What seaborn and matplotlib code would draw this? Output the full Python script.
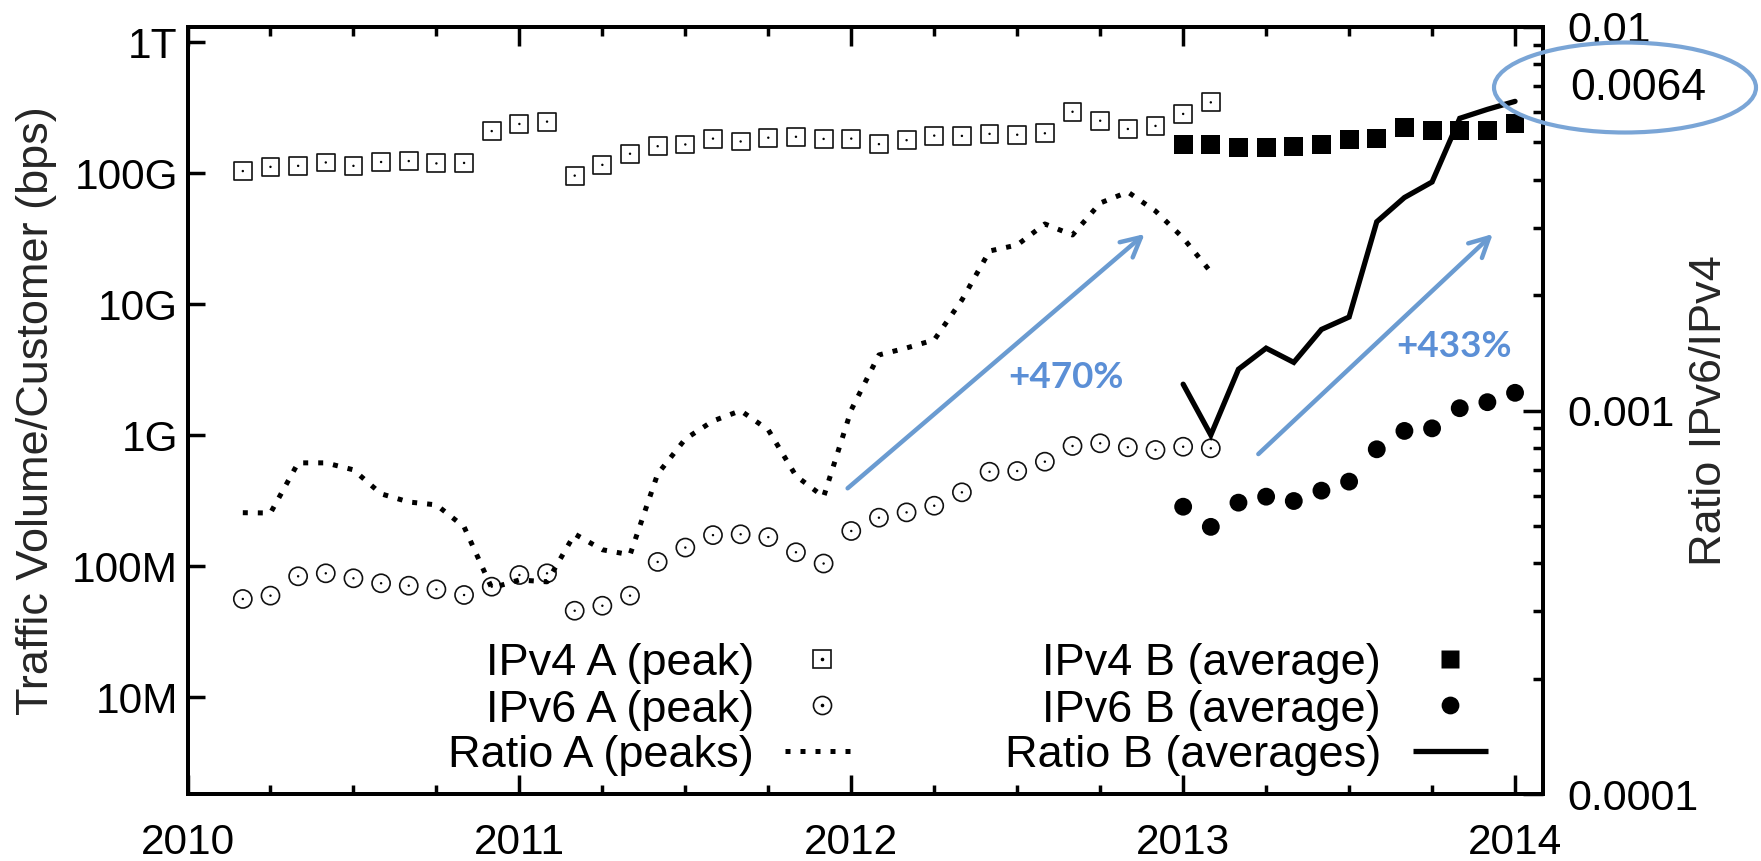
import numpy as np
import pandas as pd
import matplotlib
matplotlib.use("Agg")
import matplotlib.pyplot as plt
import seaborn as sns
from matplotlib.patches import Ellipse
from matplotlib.ticker import FixedLocator, NullLocator, LogLocator, NullFormatter

# ---------------- data ----------------
# month index: 0 = Jan 2010
months_A = list(range(2, 38))    # Mar 2010 .. Feb 2013
months_B = list(range(36, 49))   # Jan 2013 .. Jan 2014

ipv4_A_G = [104, 112, 114, 121, 114, 122, 124, 119, 120, 210, 238, 248,
            96, 116, 141, 161, 166, 184, 175, 187, 190, 183,
            184, 167, 179, 194, 193, 200, 197, 202, 295, 252, 218, 230, 284, 348]
ipv6_A_M = [56.3, 59.7, 83.9, 88.4, 81.0, 74.2, 71.1, 66.7, 60.4, 69.9, 85.8, 88.4,
            45.8, 50.0, 59.7, 108, 139, 173, 175.5, 167, 128, 105,
            186, 235, 258, 290, 367, 527, 534, 629, 829, 869, 810, 773, 818, 796]
ratio_A = [5.42e-4, 5.41e-4, 7.31e-4, 7.31e-4, 7.01e-4, 6.07e-4, 5.78e-4, 5.68e-4,
           4.98e-4, 3.45e-4, 3.62e-4, 3.58e-4, 4.77e-4, 4.34e-4, 4.21e-4, 6.84e-4,
           8.44e-4, 9.40e-4, 1.000e-3, 8.91e-4, 6.76e-4, 5.96e-4, 1.005e-3, 1.397e-3,
           1.457e-3, 1.529e-3, 1.943e-3, 2.607e-3, 2.703e-3, 3.066e-3, 2.870e-3,
           3.477e-3, 3.715e-3, 3.314e-3, 2.819e-3, 2.298e-3]

ipv4_B_G = [166, 166, 158, 158, 161, 166, 182, 185, 224, 213, 213, 213, 241]
ipv6_B_M = [285, 200, 306, 340, 315, 378, 443, 782, 1080, 1130, 1610, 1790, 2110]
ratio_B = [1.172e-3, 0.864e-3, 1.282e-3, 1.455e-3, 1.336e-3, 1.628e-3, 1.754e-3,
           3.107e-3, 3.593e-3, 3.945e-3, 5.78e-3, 6.10e-3, 6.40e-3]

year_ticks = [2010, 2011, 2012, 2013, 2014]
year_labels = ["2010", "2011", "2012", "2013", "2014"]
left_ticks = [1e7, 1e8, 1e9, 1e10, 1e11, 1e12]
left_labels = ["10M", "100M", "1G", "10G", "100G", "1T"]
right_ticks = [1e-4, 1e-3, 1e-2]
right_labels = ["0.0001", "0.001", "0.01"]

legend_left = ["IPv4 A (peak)", "IPv6 A (peak)", "Ratio A (peaks)"]
legend_right = ["IPv4 B (average)", "IPv6 B (average)", "Ratio B (averages)"]
growth_labels = ["+470%", "+433%"]
end_ratio_label = "0.0064"

# ---------------- derived frames ----------------
dfA = pd.DataFrame({
    "x": [2010 + m / 12 for m in months_A],
    "ipv4": [v * 1e9 for v in ipv4_A_G],
    "ipv6": [v * 1e6 for v in ipv6_A_M],
    "ratio": ratio_A,
})
dfB = pd.DataFrame({
    "x": [2010 + m / 12 for m in months_B],
    "ipv4": [v * 1e9 for v in ipv4_B_G],
    "ipv6": [v * 1e6 for v in ipv6_B_M],
    "ratio": ratio_B,
})

# ---------------- style ----------------
sns.set_theme(style="ticks")
plt.rcParams["font.family"] = ["Liberation Sans", "DejaVu Sans"]
plt.rcParams["axes.linewidth"] = 2.8
plt.rcParams["text.color"] = "black"
plt.rcParams["xtick.color"] = "black"
plt.rcParams["ytick.color"] = "black"

W, H = 1761, 861
fig = plt.figure(figsize=(W / 100, H / 100), dpi=100)
ax_left, ax_right, ax_top, ax_bot = 187.5, 1542.7, 27.0, 794.3
ax = fig.add_axes([ax_left / W, 1 - ax_bot / H, (ax_right - ax_left) / W, (ax_bot - ax_top) / H])
ax2 = ax.twinx()

# ---------------- markers (left axis) ----------------
sns.scatterplot(data=dfA, x="x", y="ipv4", marker="s", s=165, facecolor="none",
                edgecolor="#111111", linewidth=1.2, ax=ax, zorder=3)
sns.scatterplot(data=dfA, x="x", y="ipv6", marker="o", s=170, facecolor="none",
                edgecolor="#111111", linewidth=1.2, ax=ax, zorder=3)
for col in ["ipv4", "ipv6"]:
    sns.scatterplot(data=dfA, x="x", y=col, marker="o", s=3, color="black",
                    edgecolor="none", linewidth=0, ax=ax, zorder=4)
sns.scatterplot(data=dfB, x="x", y="ipv4", marker="s", s=185, color="black",
                edgecolor="none", linewidth=0, ax=ax, zorder=3)
sns.scatterplot(data=dfB, x="x", y="ipv6", marker="o", s=165, color="black",
                edgecolor="none", linewidth=0, ax=ax, zorder=3)

# ---------------- ratios (right axis) ----------------
sns.lineplot(data=dfA, x="x", y="ratio", ax=ax2, color="black", linewidth=3.6,
             linestyle=(0, (1, 2)), dash_capstyle="butt")
sns.lineplot(data=dfB, x="x", y="ratio", ax=ax2, color="black", linewidth=3.8,
             solid_joinstyle="miter")

# ---------------- axes ----------------
ax.set_yscale("log")
ax.set_ylim(10 ** 6.2595, 10 ** 12.1168)
ax.set_xlim(2010, 2014 + 1 / 12)
ax.set_yticks(left_ticks)
ax.set_yticklabels(left_labels)
ax.yaxis.set_minor_locator(NullLocator())
ax.set_xticks(year_ticks)
ax.set_xticklabels(year_labels)
ax.xaxis.set_minor_locator(FixedLocator([2010 + q / 4 for q in range(0, 17)]))
ax.set_xlabel("")
ax.set_ylabel("Traffic Volume/Customer (bps)", fontsize=32.5)
ax.yaxis.set_label_coords((57 - ax_left) / (ax_right - ax_left), 0.5)

ax2.set_yscale("log")
ax2.set_ylim(1e-4, 1e-2)
ax2.set_yticks(right_ticks)
ax2.set_yticklabels(right_labels)
ax2.yaxis.set_minor_locator(LogLocator(base=10, subs=[2, 3, 4, 5, 6, 7, 8, 9]))
ax2.yaxis.set_minor_formatter(NullFormatter())
ax2.set_xlabel("")
ax2.set_ylabel("Ratio IPv6/IPv4", fontsize=32.5, rotation=90)
ax2.yaxis.set_label_coords((1689 - ax_left) / (ax_right - ax_left), 0.5)

ax.tick_params(axis="x", which="major", direction="in", length=14, width=2.5,
               top=True, bottom=True, pad=21, labelsize=30.5)
ax.tick_params(axis="x", which="minor", direction="in", length=6.5, width=2.5,
               top=True, bottom=True)
ax.tick_params(axis="y", which="major", direction="in", length=12, width=2.5,
               left=True, right=False, pad=7, labelsize=30.5)
ax2.tick_params(axis="y", which="major", direction="in", length=14.4, width=2.5,
                right=True, left=False, pad=18, labelsize=31)
ax2.tick_params(axis="y", which="minor", direction="in", length=7, width=2.5,
                right=True, left=False)
for a in (ax, ax2):
    for sp in a.spines.values():
        sp.set_linewidth(2.8)
        sp.set_color("black")
ax.grid(False)
ax2.grid(False)

# ---------------- legend (gnuplot style, drawn manually) ----------------
fs_leg = 32.5
row_base = [0.1555, 0.0946, 0.036]
row_mid = [0.1764, 0.116, 0.0568]
for lab, yb in zip(legend_left, row_base):
    ax.text(0.418, yb, lab, transform=ax.transAxes, ha="right", va="baseline", fontsize=fs_leg)
for lab, yb in zip(legend_right, row_base):
    ax.text(0.8807, yb, lab, transform=ax.transAxes, ha="right", va="baseline", fontsize=fs_leg)
xs_l, xs_r = 0.468, 0.9316
ax.plot([xs_l], [row_mid[0]], transform=ax.transAxes, marker="s", ms=12.8, mfc="none",
        mec="#111111", mew=1.2, ls="none", clip_on=False)
ax.plot([xs_l], [row_mid[1]], transform=ax.transAxes, marker="o", ms=13, mfc="none",
        mec="#111111", mew=1.2, ls="none", clip_on=False)
for ym in row_mid[:2]:
    ax.plot([xs_l], [ym], transform=ax.transAxes, marker="o", ms=1.6, color="black",
            ls="none", clip_on=False)
ax.plot([0.441, 0.4944], [row_mid[2]] * 2, transform=ax.transAxes, color="black",
        lw=3.6, ls=(0, (1, 2)), dash_capstyle="butt", clip_on=False)
ax.plot([xs_r], [row_mid[0]], transform=ax.transAxes, marker="s", ms=13.6, color="black",
        mec="none", ls="none", clip_on=False)
ax.plot([xs_r], [row_mid[1]], transform=ax.transAxes, marker="o", ms=12.8, color="black",
        mec="none", ls="none", clip_on=False)
ax.plot([0.904, 0.9596], [row_mid[2]] * 2, transform=ax.transAxes, color="black",
        lw=3.8, solid_capstyle="butt", clip_on=False)

# ---------------- annotations ----------------
arrow_c = "#6A9BD1"
text_c = "#5B8FD6"
arrows = [((2011.989, 3.94e8), (2012.884, 3.44e10)),
          ((2013.2265, 7.19e8), (2013.933, 3.44e10))]
for (p0, p1) in arrows:
    ax.annotate("", xy=p1, xytext=p0, xycoords="data", textcoords="data",
                annotation_clip=False,
                arrowprops=dict(arrowstyle="->,head_length=0.7,head_width=0.36",
                                color=arrow_c, lw=3.2, shrinkA=0, shrinkB=0,
                                mutation_scale=20))
txt_pos = [(2012.646, 2.74e9), (2013.817, 4.74e9)]
for lab, (tx, ty) in zip(growth_labels, txt_pos):
    ax.text(tx, ty, lab, ha="center", va="center", fontsize=26.5, fontweight="bold",
            color=text_c, family=["Lato", "DejaVu Sans"])

fig.text(1638 / W, 1 - 88 / H, end_ratio_label, ha="center", va="center", fontsize=32)
ell = Ellipse((1625 / W, 1 - 87.5 / H), 262 / W, 90 / H, transform=fig.transFigure,
              fill=False, edgecolor="#7AA5D6", lw=3.0)
fig.patches.append(ell)

fig.savefig("out.png", dpi=100)
